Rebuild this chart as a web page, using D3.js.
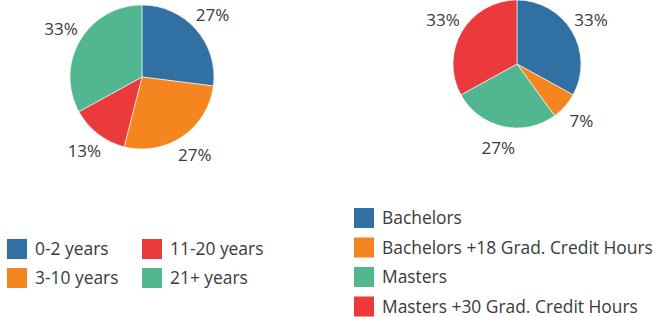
<!DOCTYPE html>
<html>
<head>
<meta charset="utf-8">
<script src="https://cdn.jsdelivr.net/npm/d3@7"></script>
<style>
  body { margin: 0; background: #fff; }
  svg { display: block; font-family: "Open Sans", Lato, sans-serif; }
</style>
</head>
<body>
<div id="chart"></div>
<script>
// chart data
const years_labels = ['0-2 years', '3-10 years', '11-20 years', '21+ years'];
const years_values = [27, 27, 13, 33];
const years_colors = ['#3070a2', '#f5851f', '#ea3a3b', '#52b791'];

const degree_labels = ['Bachelors', 'Bachelors +18 Grad. Credit Hours', 'Masters', 'Masters +30 Grad. Credit Hours'];
const degree_values = [33, 7, 27, 33];
const degree_colors = ['#3070a2', '#f5851f', '#52b791', '#ea3a3b'];

const width = 654;
const height = 317;

const svg = d3.select('#chart')
  .append('svg')
  .attr('width', width)
  .attr('height', height);

/**
 * Draws one pie with its percent labels outside
 */
function draw_pie(values, colors, cx, cy, r, label_r) {
  const total = d3.sum(values);
  const pie = d3.pie().sort(null).value(d => d);
  const arc = d3.arc().innerRadius(0).outerRadius(r);
  const label_arc = d3.arc().innerRadius(label_r).outerRadius(label_r);

  const g = svg.append('g')
    .attr('transform', `translate(${cx}, ${cy})`);

  g.selectAll('path')
    .data(pie(values))
    .join('path')
    .attr('d', arc)
    .attr('fill', (d, i) => colors[i])
    .attr('stroke', '#fff')
    .attr('stroke-width', 0.6);

  g.selectAll('text')
    .data(pie(values))
    .join('text')
    .attr('transform', d => `translate(${label_arc.centroid(d)})`)
    .attr('text-anchor', 'middle')
    .attr('dy', '0.36em')
    .style('font-size', '17px')
    .style('fill', '#3a3a3a')
    .text(d => `${Math.round(d.data / total * 100)}%`);
}

draw_pie(years_values, years_colors, 142, 77, 72, 94);
draw_pie(degree_values, degree_colors, 517, 64, 64, 86);

// Handmade legends
function add_legend(labels, colors, x0, y0, cols, col_w, row_h) {
  labels.forEach((label, i) => {
    const col = Math.floor(i / cols);
    const row = i % cols;
    const x = x0 + col * col_w;
    const y = y0 + row * row_h;
    svg.append('rect')
      .attr('x', x)
      .attr('y', y)
      .attr('width', 20)
      .attr('height', 20)
      .style('fill', colors[i]);
    svg.append('text')
      .attr('x', x + 28)
      .attr('y', y + 10)
      .attr('dy', '0.36em')
      .text(label)
      .style('font-size', '17.4px')
      .style('fill', '#3a3a3a');
  });
}

add_legend(years_labels, years_colors, 7, 239, 2, 135, 29);
add_legend(degree_labels, degree_colors, 354, 208, 4, 0, 29.5);
</script>
</body>
</html>
